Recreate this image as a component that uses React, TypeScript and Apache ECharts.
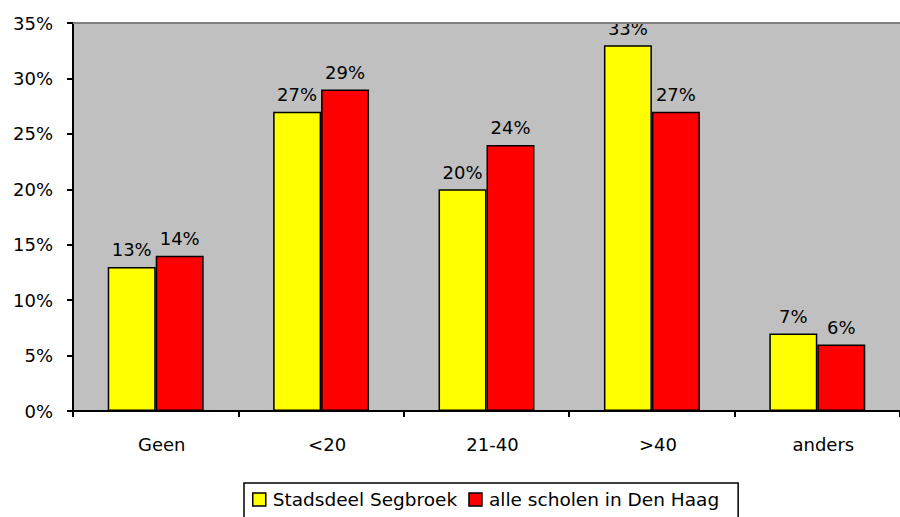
import React, { useEffect, useRef } from "react";
import * as echarts from "echarts";

const categories = ["Geen", "<20", "21-40", ">40", "anders"];
const segbroek = [13, 27, 20, 33, 7];
const denHaag = [14, 29, 24, 27, 6];
const seriesNames = ["Stadsdeel Segbroek", "alle scholen in Den Haag"];

const FONT = "DejaVu Sans";
const FS = 18;

export default function App() {
  const ref = useRef<HTMLDivElement>(null);
  useEffect(() => {
    if (!ref.current) return;
    const chart = echarts.init(ref.current, undefined, { renderer: "svg" });
    const label = {
      show: true,
      position: "top" as const,
      distance: 8,
      formatter: "{c}%",
      color: "#000",
      fontFamily: FONT,
      fontSize: FS,
    };
    chart.setOption({
      animation: false,
      backgroundColor: "#fff",
      grid: {
        left: 73,
        top: 23,
        width: 832,
        height: 388,
        show: true,
        backgroundColor: "#C0C0C0",
        borderWidth: 0,
      },
      graphic: [
        {
          type: "line",
          shape: { x1: 73, y1: 23, x2: 900, y2: 23 },
          style: { stroke: "#808080", lineWidth: 2 },
          z: 10,
        },
      ],
      legend: {
        left: 244,
        top: 483,
        itemWidth: 13,
        itemHeight: 13,
        itemGap: 11,
        padding: [7, 19, 22, 8],
        borderColor: "#000",
        borderWidth: 1.5,
        borderRadius: 0,
        textStyle: { fontFamily: FONT, fontSize: 18.5, color: "#000", padding: [0, 0, 0, 2] },
        icon: "rect",
        itemStyle: { borderColor: "#000", borderWidth: 1.5 },
        data: seriesNames,
      },
      xAxis: {
        type: "category",
        data: categories,
        axisLine: { lineStyle: { color: "#000", width: 2 } },
        axisTick: { show: true, length: 6, lineStyle: { color: "#000", width: 2 } },
        axisLabel: { color: "#000", fontFamily: FONT, fontSize: FS, margin: 24, padding: [0, 0, 0, 12] },
      },
      yAxis: {
        type: "value",
        min: 0,
        max: 35,
        interval: 5,
        axisLine: { show: true, lineStyle: { color: "#000", width: 2 } },
        axisTick: { show: true, length: 6, lineStyle: { color: "#000", width: 2 } },
        axisLabel: { color: "#000", fontFamily: FONT, fontSize: FS, formatter: "{value}%", margin: 20 },
        splitLine: { show: false },
      },
      series: [
        {
          name: seriesNames[0],
          type: "bar",
          data: segbroek,
          barGap: "0%",
          barCategoryGap: "42%",
          itemStyle: { color: "#FFFF00", borderColor: "#000", borderWidth: 1.5 },
          label,
        },
        {
          name: seriesNames[1],
          type: "bar",
          data: denHaag,
          itemStyle: { color: "#FF0000", borderColor: "#000", borderWidth: 1.5 },
          label,
        },
      ],
    });
    return () => chart.dispose();
  }, []);
  return <div ref={ref} style={{ width: 900, height: 517, position: "fixed", left: 0, top: 0 }} />;
}
